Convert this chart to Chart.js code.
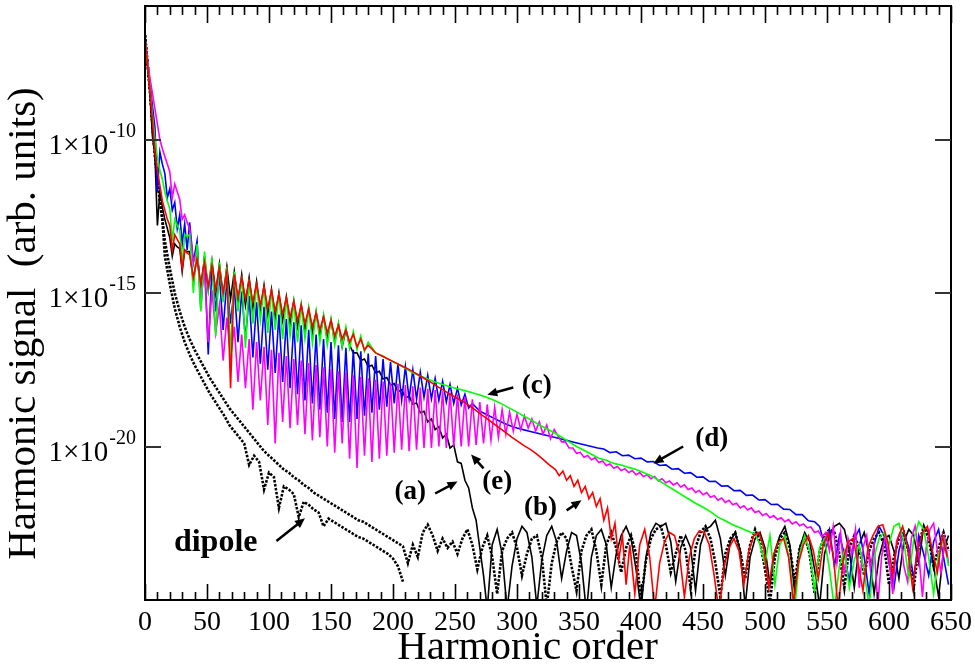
<!DOCTYPE html>
<html><head><meta charset="utf-8">
<script src="https://cdn.jsdelivr.net/npm/chart.js@4.4.1/dist/chart.umd.min.js"></script>
<style>html,body{margin:0;padding:0;background:#fff}#wrap{width:975px;height:668px;position:relative}</style>
</head><body><div id="wrap"><canvas id="c" width="975" height="668"></canvas></div>
<script>
// ---- axes ----
const harmonicMin = 0, harmonicMax = 650;
const xMajorStep = 50, xMinorStep = 10;
const yMinExp = -25, yMaxExp = -5.65;
const yTickExponents = [-20, -15, -10];

// ---- values are log10(signal) ----
// (e) magenta
const eHead  = [-6.75,-7.4,-8.0,-8.5,-9.0,-9.5,-10.0,-10.3,-10.55,-10.8,-11.05,-11.9,-11.45,-11.7,-11.95,-12.6,-12.45,-12.7]; // h 0..34 step 2
const ePeaks = [-12.9,-13.6,-14.3,-14.9,-15.4,-15.8,-16.1,-16.35,-16.5,-16.6,-16.75,-16.85,-16.95,-17.05,-17.15,-17.2,-17.28,-17.35,-17.42,-17.48,-17.55,-17.6,-17.68,-17.73,-17.78,-17.83,-17.88,-17.92,-17.96,-18.0,-18.04,-18.08,-18.12,-18.16,-18.2,-18.24,-18.3,-18.38,-18.46,-18.55,-18.63,-18.72,-18.8,-18.88,-18.95,-19.0,-19.1,-19.2,-19.3,-19.45]; // h 36.. step 6
const eDips  = [-14.0,-15.1,-16.6,-16.3,-17.2,-17.1,-17.9,-18.1,-18.8,-18.5,-19.3,-19.9,-19.2,-19.4,-19.3,-19.6,-19.8,-19.7,-20.0,-20.2,-19.9,-20.4,-20.7,-20.3,-20.5,-20.4,-20.3,-20.2,-20.1,-20.15,-20.1,-20.05,-20.05,-20.0,-20.05,-20.0,-20.0,-20.0,-19.95,-19.9,-19.8,-19.7,-19.6,-19.5,-19.45,-19.4,-19.5,-19.6,-19.75]; // h 39.. step 6
const eTail  = [-19.65,-19.85,-19.85,-20.05,-20.05,-20.22,-20.19,-20.35,-20.29,-20.43,-20.37,-20.52,-20.47,-20.62,-20.57,-20.71,-20.65,-20.78,-20.72,-20.85,-20.78,-20.92,-20.85,-20.98,-20.92,-21.05,-20.98,-21.12,-21.05,-21.18,-21.12,-21.25,-21.18,-21.32,-21.25,-21.4,-21.35,-21.5,-21.43,-21.57,-21.5,-21.65,-21.6,-21.75,-21.68,-21.82,-21.75,-21.9,-21.85,-22.0,-21.93,-22.07,-22.0,-22.15,-22.1,-22.25,-22.18,-22.32,-22.25,-22.38,-22.32,-22.45,-22.38,-22.52,-22.45,-22.58,-22.52,-22.65,-22.62,-22.8,-22.75,-22.95]; // h 333.. step 3
const eNoise = [-22.8,-23.4,-22.6,-23.8,-22.8,-24.2,-23.0,-23.5,-22.7,-24.6,-23.3,-22.9,-24.0,-23.2,-25.2,-23.6,-22.9,-23.7,-24.8,-23.1,-22.8,-23.9,-24.4,-23.0,-22.6,-23.5,-24.9,-23.3,-22.7,-22.5,-23.4,-24.1,-23.0,-23.8]; // h 549.. step 3

// (d) blue
const dHead  = [-6.7,-7.4,-8.2,-8.9,-9.6,-11.7,-10.4,-10.8,-11.1,-11.9,-11.6,-12.3,-12.05,-12.9,-12.45,-13.4,-12.75,-13.6]; // h 0..34 step 2
const dPeaks = [-12.7,-13.3,-13.8,-14.1,-14.4,-14.6,-14.8,-14.95,-15.1,-15.3,-15.45,-15.6,-15.7,-15.85,-15.95,-16.05,-16.2,-16.35,-16.5,-16.6,-16.7,-16.78,-16.85,-16.9,-16.97,-17.05,-17.15,-17.25,-17.3,-17.4,-17.5,-17.58,-17.68,-17.78,-17.88,-17.98,-18.1,-18.3,-18.6];
const dDips  = [-14.0,-15.5,-17.0,-15.6,-16.2,-16.0,-16.6,-16.5,-17.1,-17.3,-17.5,-17.6,-17.9,-18.1,-18.3,-18.5,-18.6,-18.8,-18.9,-19.1,-19.2,-19.2,-19.1,-19.0,-18.9,-18.8,-18.7,-18.6,-18.5,-18.45,-18.45,-18.4,-18.45,-18.5,-18.55,-18.6,-18.65,-18.75];
const dTail  = [-18.85,-18.95,-19.05,-19.15,-19.25,-19.33,-19.4,-19.45,-19.5,-19.55,-19.6,-19.65,-19.7,-19.75,-19.8,-19.85,-19.9,-19.95,-20.0,-20.05,-20.08,-20.2,-20.17,-20.3,-20.28,-20.4,-20.38,-20.5,-20.49,-20.62,-20.6,-20.74,-20.72,-20.87,-20.85,-21.0,-20.99,-21.14,-21.13,-21.29,-21.28,-21.44,-21.43,-21.59,-21.58,-21.74,-21.73,-21.89,-21.88,-22.04,-22.05,-22.22,-22.22,-22.42,-22.45]; // h 270.. step 5
const dNoise = [-22.6,-23.2,-22.7,-23.9,-22.9,-23.5,-24.4,-23.0,-22.7,-23.6,-24.8,-23.2,-22.6,-22.9,-23.8,-24.6,-23.4,-22.8,-23.3,-24.3,-22.9,-23.5,-24.2,-23.1,-22.7,-23.6,-24.5]; // h 544.. step 4

// (c) green
const cHead  = [-6.7,-7.5,-8.3,-9.2,-10.0,-10.6,-11.0,-11.3,-11.7,-12.0,-12.25,-13.3,-12.6,-12.8,-12.95,-14.1,-13.1,-13.15]; // h 0..34 step 2
const cPeaks = [-13.1,-13.4,-13.65,-13.85,-14.0,-14.15,-14.3,-14.45,-14.55,-14.7,-14.8,-14.9,-15.0,-15.15,-15.3,-15.4,-15.5,-15.6,-15.72,-15.85,-15.97,-16.1,-16.25,-16.4,-16.6];
const cDips  = [-15.0,-15.6,-14.9,-16.4,-15.3,-17.0,-15.6,-16.8,-16.0,-15.9,-16.3,-16.2,-16.5,-16.4,-16.6,-16.5,-16.65,-16.6,-16.7,-16.7,-16.75,-16.8,-16.85,-16.9];
const cTail  = [-16.95,-17.05,-17.2,-17.32,-17.45,-17.6,-17.7,-17.8,-17.9,-17.98,-18.05,-18.12,-18.18,-18.25,-18.32,-18.4,-18.5,-18.62,-18.75,-18.88,-19.02,-19.15,-19.3,-19.42,-19.55,-19.7,-19.85,-20.0,-20.12,-20.25,-20.38,-20.45,-20.55,-20.6,-20.68,-20.75,-20.85,-20.95,-21.1,-21.25,-21.4,-21.55,-21.7,-21.85,-21.98,-22.12,-22.3,-22.42,-22.55,-22.65,-22.75,-22.85]; // h 186.. step 6
const cNoise = [-23.2,-23.8,-22.9,-24.5,-23.2,-22.9,-23.8,-25.3,-23.5,-22.9,-23.4,-24.7,-23.3,-23.0,-24.0,-25.3,-23.9,-23.4,-24.6,-23.7,-23.2,-24.1,-25.2,-23.6,-23.0,-22.8,-23.2,-22.6,-22.5,-23.1,-24.3,-23.0,-22.45,-22.7,-23.6,-24.8,-23.5,-23.0,-23.9]; // h 496.. step 4

// (b) red
const bHead  = [-6.7,-7.5,-8.4,-9.4,-10.4,-11.0,-11.5,-12.0,-12.3,-12.6,-12.8,-13.6,-13.1,-13.25,-13.4,-14.2,-13.6,-13.7]; // h 0..34 step 2
const bPeaks = [-13.75,-13.9,-14.0,-14.1,-14.2,-14.3,-14.4,-14.5,-14.6,-14.7,-14.8,-14.92,-15.05,-15.15,-15.28,-15.4,-15.52,-15.65,-15.78,-15.9,-16.05,-16.2,-16.35,-16.5,-16.7];
const bDips  = [-14.5,-14.7,-14.8,-14.9,-15.0,-18.1,-15.15,-15.2,-15.3,-15.4,-15.5,-15.6,-15.7,-15.8,-15.9,-16.0,-16.1,-16.2,-16.3,-16.4,-16.5,-16.6,-16.75,-16.85];
const bTail  = [-16.95,-17.05,-17.15,-17.25,-17.35,-17.45,-17.56,-17.68,-17.8,-17.92,-18.05,-18.17,-18.3,-18.41,-18.52,-18.65,-18.8,-18.95,-19.1,-19.25,-19.4,-19.55,-19.7,-19.84,-19.98,-20.1,-20.25,-20.42,-20.6,-20.75]; // h 186.. step 5
const bFuzz  = [-20.95,-20.8,-21.1,-20.95,-21.3,-21.1,-21.5,-21.3,-21.7,-21.5,-21.95,-21.7,-22.4,-22.0,-23.0,-22.5,-23.7,-22.9,-24.5,-23.2]; // h 334.. step 3
const bNoise = [-24.8,-23.2,-22.7,-23.6,-25.3,-23.8,-23.1,-22.8,-22.9,-23.5,-24.9,-23.6,-23.0,-22.75,-22.8,-23.2,-24.2,-25.4,-23.9,-23.3,-23.0,-23.4,-24.5,-23.4,-22.9,-22.8,-23.3,-24.6,-23.5,-23.1,-23.0,-23.6,-25.1,-23.8,-23.2,-22.9,-23.4,-24.3,-23.2,-22.8,-23.5,-25.3,-23.7,-23.1,-23.0,-23.8,-24.7,-23.3,-22.9,-22.6,-22.55,-23.1,-24.2,-23.0,-22.6,-23.3,-24.6,-23.4,-22.8,-22.6,-23.4,-24.1,-22.9,-23.6]; // h 395.. step 4

// (a) black solid
const aHead  = [-6.6,-7.6,-8.5,-9.9,-10.5,-12.8,-11.7,-12.2,-12.6,-12.9,-13.2,-13.8,-13.4,-13.5,-13.55,-14.3,-13.6,-13.65]; // h 0..34 step 2
const aPeaks = [-13.65,-13.75,-13.85,-13.95,-14.05,-14.15,-14.3,-14.4,-14.5,-14.62,-14.75,-14.88,-15.0,-15.12,-15.25,-15.38,-15.5,-15.62,-15.75,-15.88,-16.02,-16.2];
const aDips  = [-14.6,-14.8,-14.9,-15.0,-15.1,-15.2,-15.3,-15.4,-15.5,-15.6,-15.7,-15.8,-15.9,-16.0,-16.1,-16.2,-16.3,-16.4,-16.5,-16.6,-16.75];
const aTail  = [-16.7,-16.95,-16.95,-17.2,-17.15,-17.4,-17.35,-17.6,-17.55,-17.8,-17.75,-18.0,-17.95,-18.22,-18.15,-18.42,-18.35,-18.62,-18.58,-18.9,-18.85,-19.2,-19.1,-19.45,-19.35,-19.72,-19.6,-20.05,-19.95,-20.5,-20.55,-21.1,-21.35,-22.0,-22.4,-23.3,-24.2,-25.3]; // h 165.. step 3
const aNoise = [-23.2,-22.7,-23.5,-25.3,-23.9,-23.0,-22.6,-22.8,-23.6,-25.2,-23.7,-22.9,-22.6,-23.1,-24.3,-23.4,-22.8,-22.9,-23.8,-25.4,-23.6,-22.9,-22.7,-23.2,-24.6,-23.5,-22.9,-22.6,-23.0,-24.0,-25.3,-23.6,-22.8,-22.5,-22.6,-22.5,-23.1,-24.4,-23.3,-22.9,-23.3,-24.7,-23.2,-22.7,-22.6,-22.4,-23.0,-24.2,-23.1,-22.8,-23.4,-25.2,-23.6,-23.0,-22.8,-23.3,-24.5,-23.4,-22.9,-22.6,-23.2,-24.8,-23.3,-22.8,-23.1,-24.0,-25.2,-23.5,-22.9,-22.6,-22.5,-22.7,-23.4,-24.6,-23.2,-22.8,-23.5,-24.8,-23.6,-23.0,-22.9,-23.4,-24.3,-23.1,-22.7,-22.9,-23.8,-22.6,-22.8,-23.9,-24.9,-23.4,-22.9]; // h 280.. step 4

// dipole (black dashed, upper and lower edge of its band)
const pHead  = [-6.6,-7.5,-8.4,-9.5,-10.5,-11.3,-12.0,-12.6]; // h 0..14 step 2
const pUpper = [-13.3,-14.2,-15.0,-15.6,-16.1,-16.5,-16.85,-17.15,-17.45,-17.75,-18.0,-18.25,-18.5,-18.75,-18.95,-19.15,-19.35,-19.55,-19.75,-19.95,-20.15,-20.3,-20.45,-20.6,-20.75,-20.85,-21.0,-21.1,-21.25,-21.35,-21.5,-21.6,-21.7,-21.8,-21.9,-22.0,-22.1,-22.2,-22.3,-22.4,-22.45,-22.55,-22.65,-22.75,-22.85,-22.95,-23.05,-23.15,-23.25]; // h 16.. step 4
const pLower = [-13.8,-14.7,-15.5,-16.1,-16.6,-17.0,-17.35,-17.65,-17.95,-18.25,-18.5,-18.75,-19.0,-19.3,-19.5,-19.7,-19.9,-20.6,-20.3,-20.5,-21.4,-20.85,-21.0,-22.0,-21.3,-21.4,-21.55,-22.3,-21.8,-21.9,-22.05,-22.15,-22.6,-22.35,-22.45,-22.55,-22.65,-22.75,-22.85,-22.95,-23.0,-23.1,-23.2,-23.3,-23.4,-23.5,-23.65,-23.9,-24.4]; // h 16.. step 4
const pNoise = [-23.8,-23.2,-23.6,-22.8,-22.55,-22.9,-23.4,-23.0,-23.3,-23.1,-23.5,-23.0,-22.7,-23.2,-24.0,-23.3,-22.9,-23.6,-24.8,-23.4,-23.0,-22.8,-23.3,-24.2,-23.5,-23.0,-22.9,-23.6,-25.2,-23.8,-23.1,-22.8,-23.0,-23.9,-24.7,-23.4,-22.9,-22.7,-23.4,-24.5,-23.2,-22.8,-23.3,-24.1,-23.3,-22.9,-23.5,-25.0,-23.7,-23.0,-22.7,-22.6,-23.2,-24.1,-23.5,-22.9,-23.4,-24.6,-23.3,-22.8,-22.6,-23.0,-23.8,-24.9,-23.5,-23.0,-22.8,-23.4,-24.3,-23.2,-22.7,-23.1,-24.0,-25.1,-23.6,-23.0,-22.8,-23.3,-24.4,-23.3,-22.9,-23.5,-24.8,-23.4,-22.9,-22.7,-22.8,-23.5,-24.6,-23.3,-22.9,-23.3,-24.2,-23.4,-23.0,-22.8,-23.2,-24.5,-23.6,-23.0,-22.8,-23.5,-24.6,-23.2,-22.6,-23.0,-23.9,-23.3,-22.8,-23.4]; // h 212.. step 4

// annotations: [text, textH, textExp, tailH, tailExp, headH, headExp]
const labels = [
  ['(c)', 316, -18.02, 297, -18.08, 276, -18.31],
  ['(d)', 457, -19.77, 434, -20.0, 410, -20.55],
  ['(e)', 284, -21.17, 273, -20.71, 263, -20.26],
  ['(a)', 214, -21.49, 234, -21.53, 252, -21.14],
  ['(b)', 319, -22.01, 340, -22.08, 352, -21.75],
  ['dipole', 57, -23.15, 106, -23.08, 129, -22.34]
];

function seg(h0, dh, exps){ return exps.map((e,i)=>({x:h0+i*dh, y:Math.pow(10,e)})); }
function join(...parts){ return [].concat(...parts).sort((p,q)=>p.x-q.x); }

const serE = join(seg(0,2,eHead), seg(36,6,ePeaks), seg(39,6,eDips), seg(333,3,eTail), seg(549,3,eNoise));
const serD = join(seg(0,2,dHead), seg(36,6,dPeaks), seg(39,6,dDips), seg(270,5,dTail), seg(544,4,dNoise));
const serC = join(seg(0,2,cHead), seg(36,6,cPeaks), seg(39,6,cDips), seg(186,6,cTail), seg(496,4,cNoise));
const serB = join(seg(0,2,bHead), seg(36,6,bPeaks), seg(39,6,bDips), seg(186,5,bTail), seg(334,3,bFuzz), seg(395,4,bNoise));
const serA = join(seg(0,2,aHead), seg(36,6,aPeaks), seg(39,6,aDips), seg(165,3,aTail), seg(280,4,aNoise));
const serPU = join(seg(0,2,pHead), seg(16,4,pUpper), seg(212,4,pNoise));
const serPL = join(seg(0,2,pHead), seg(16,4,pLower));

const SERIF = '"Liberation Serif", "Times New Roman", "DejaVu Serif", serif';

const framePlugin = {
  id: 'frame',
  afterDatasetsDraw(chart){
    const {ctx, chartArea:a, scales:{x, y}} = chart;
    ctx.save();
    ctx.strokeStyle = '#000';
    ctx.lineWidth = 2;
    ctx.strokeRect(a.left, a.top, a.right - a.left, a.bottom - a.top);
    ctx.lineWidth = 1.6;
    for (let v = harmonicMin; v <= harmonicMax; v += xMinorStep) {
      const px = Math.round(x.getPixelForValue(v)) + 0.5;
      const len = (v % xMajorStep === 0) ? 16 : 8;
      ctx.beginPath();
      ctx.moveTo(px, a.bottom); ctx.lineTo(px, a.bottom - len);
      ctx.moveTo(px, a.top); ctx.lineTo(px, a.top + len + 1);
      ctx.stroke();
    }
    ctx.strokeStyle = '#333';
    ctx.lineWidth = 2;
    ctx.fillStyle = '#000';
    yTickExponents.forEach(e => {
      const py = Math.round(y.getPixelForValue(Math.pow(10, e)));
      ctx.beginPath();
      ctx.moveTo(a.left, py); ctx.lineTo(a.left + 16, py);
      ctx.moveTo(a.right, py); ctx.lineTo(a.right - 16, py);
      ctx.stroke();
      // tick label 1×10^e with a raised exponent
      ctx.textAlign = 'right';
      ctx.textBaseline = 'alphabetic';
      ctx.font = '20px ' + SERIF;
      const ex = String(e);
      ctx.fillText(ex, a.left - 9, py - 3);
      const w = ctx.measureText(ex).width;
      ctx.font = '29px ' + SERIF;
      ctx.fillText('1\u00D710', a.left - 9 - w - 1, py + 14);
    });
    // annotations
    ctx.strokeStyle = '#000';
    ctx.textAlign = 'center';
    ctx.textBaseline = 'middle';
    labels.forEach(([t, th, te, h0, e0, h1, e1]) => {
      ctx.font = (t === 'dipole' ? 'bold 32px ' : 'bold 27px ') + SERIF;
      ctx.fillText(t, x.getPixelForValue(th), y.getPixelForValue(Math.pow(10, te)));
      const x0 = x.getPixelForValue(h0), y0 = y.getPixelForValue(Math.pow(10, e0));
      const x1 = x.getPixelForValue(h1), y1 = y.getPixelForValue(Math.pow(10, e1));
      const ang = Math.atan2(y1 - y0, x1 - x0);
      const hl = 10, hw = 4.5;
      ctx.lineWidth = 2.5;
      ctx.beginPath();
      ctx.moveTo(x0, y0);
      ctx.lineTo(x1 - Math.cos(ang) * hl * 0.7, y1 - Math.sin(ang) * hl * 0.7);
      ctx.stroke();
      ctx.beginPath();
      ctx.moveTo(x1, y1);
      ctx.lineTo(x1 - Math.cos(ang) * hl - Math.sin(ang) * hw, y1 - Math.sin(ang) * hl + Math.cos(ang) * hw);
      ctx.lineTo(x1 - Math.cos(ang) * hl + Math.sin(ang) * hw, y1 - Math.sin(ang) * hl - Math.cos(ang) * hw);
      ctx.closePath();
      ctx.fill();
    });
    ctx.restore();
  }
};

const lw = 1.6;
function ds(label, data, color, order, extra){
  return Object.assign({label, data, borderColor: color, backgroundColor: color, borderWidth: lw,
    pointRadius: 0, tension: 0, fill: false, order}, extra || {});
}

new Chart(document.getElementById('c'), {
  type: 'line',
  data: {
    datasets: [
      ds('(b)', serB, '#ff0000', 2),
      ds('(c)', serC, '#00ff00', 3),
      ds('(e)', serE, '#ff00ff', 4),
      ds('(d)', serD, '#0000ff', 5),
      ds('(a)', serA, '#000000', 6),
      ds('dipole', serPU, '#000000', 7, {borderDash: [2.5, 1.5], borderWidth: 2.6}),
      ds('dipole ', serPL, '#000000', 8, {borderDash: [2.5, 1.5], borderWidth: 2.6})
    ]
  },
  options: {
    responsive: false,
    animation: false,
    layout: { padding: { top: 6, right: 24, left: 0, bottom: 0 } },
    plugins: { legend: { display: false }, tooltip: { enabled: false } },
    scales: {
      x: {
        type: 'linear', position: 'bottom', min: harmonicMin, max: harmonicMax,
        grid: { display: false, drawTicks: false },
        border: { display: false },
        ticks: { stepSize: xMajorStep, color: '#000', padding: 6, maxRotation: 0,
                 font: { family: SERIF, size: 28 } },
        title: { display: true, text: 'Harmonic order    ', color: '#000', padding: { top: 0, bottom: -5 },
                 font: { family: SERIF, size: 41 } },
        afterFit(s){ s.height = 68; s.paddingLeft = 0; s.paddingRight = 0; }
      },
      y: {
        type: 'logarithmic', position: 'left',
        min: Math.pow(10, yMinExp), max: Math.pow(10, yMaxExp),
        grid: { display: false, drawTicks: false },
        border: { display: false },
        afterBuildTicks(s){ s.ticks = yTickExponents.map(e => ({ value: Math.pow(10, e) })); },
        ticks: { display: false },
        title: { display: true, text: 'Harmonic signal  (arb. units)    ', color: '#000', padding: { top: 0, bottom: 0 },
                 font: { family: SERIF, size: 41 } },
        afterFit(s){ s.width = 145; s.paddingTop = 0; s.paddingBottom = 0; }
      }
    }
  },
  plugins: [framePlugin]
});
</script>
</body></html>
